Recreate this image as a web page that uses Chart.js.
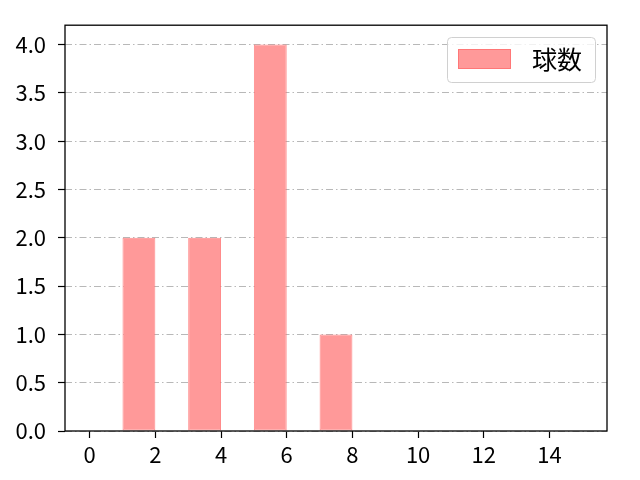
<!DOCTYPE html>
<html>
<head>
<meta charset="utf-8">
<script src="https://cdn.jsdelivr.net/npm/chart.js@4/dist/chart.umd.min.js"></script>
<style>
html,body{margin:0;padding:0;background:#fff;}
canvas{display:block;}
</style>
</head>
<body>
<canvas id="c" width="640" height="480"></canvas>
<script>
// ---- data ----
const binStarts = [1, 3, 5, 7];
const binEnds = [2, 4, 6, 8];
const counts = [2, 2, 4, 1];
const seriesLabel = '球数';
const xTickValues = [0, 2, 4, 6, 8, 10, 12, 14];
const yTickValues = [0, 0.5, 1.0, 1.5, 2.0, 2.5, 3.0, 3.5, 4.0];

const FONT = '"Noto Sans CJK JP", "DejaVu Sans", sans-serif';

const points = binStarts.map((s, i) => ({ x: (s + binEnds[i]) / 2, y: counts[i] }));

const framePlugin = {
  id: 'frame',
  afterDraw(chart) {
    const { ctx, chartArea: a } = chart;
    ctx.save();
    ctx.strokeStyle = '#000';
    ctx.lineWidth = 1.3;
    ctx.strokeRect(a.left, a.top, a.right - a.left, a.bottom - a.top);
    // legend
    const lx = 447.5, ly = 37.5, lw = 148, lh = 45, r = 4;
    ctx.beginPath();
    ctx.moveTo(lx + r, ly);
    ctx.arcTo(lx + lw, ly, lx + lw, ly + lh, r);
    ctx.arcTo(lx + lw, ly + lh, lx, ly + lh, r);
    ctx.arcTo(lx, ly + lh, lx, ly, r);
    ctx.arcTo(lx, ly, lx + lw, ly, r);
    ctx.closePath();
    ctx.fillStyle = 'rgba(255,255,255,0.8)';
    ctx.fill();
    ctx.strokeStyle = '#d0d0d0';
    ctx.lineWidth = 1;
    ctx.stroke();
    ctx.fillStyle = '#ff9999';
    ctx.fillRect(458, 49, 53, 20);
    ctx.strokeStyle = 'rgba(255,110,110,0.8)';
    ctx.strokeRect(458.5, 49.5, 52, 19);
    ctx.fillStyle = '#000';
    ctx.font = '25px ' + FONT;
    ctx.textBaseline = 'middle';
    ctx.textAlign = 'left';
    ctx.fillText(chart.data.datasets[0].label, 532, 59);
    ctx.restore();
  }
};

new Chart(document.getElementById('c'), {
  type: 'bar',
  data: {
    datasets: [{
      label: seriesLabel,
      data: points,
      backgroundColor: '#ff9999',
      borderColor: 'rgba(255,110,110,0.8)',
      borderWidth: 1,
      borderSkipped: false,
      barPercentage: 1.0,
      categoryPercentage: 0.5
    }]
  },
  options: {
    responsive: false,
    animation: false,
    devicePixelRatio: 1,
    layout: { padding: { left: 0, right: 33, top: 24, bottom: 0 } },
    plugins: { legend: { display: false }, tooltip: { enabled: false } },
    scales: {
      x: {
        type: 'linear',
        offset: false,
        min: -0.75,
        max: 15.75,
        afterBuildTicks(s) { s.ticks = xTickValues.map(v => ({ value: v })); },
        afterFit(s) { s.height = 49; },
        grid: {
          offset: false,
          drawOnChartArea: false,
          drawTicks: true,
          tickLength: 7,
          tickColor: '#000',
          tickWidth: 1.2
        },
        border: { display: false },
        ticks: {
          color: '#000',
          font: { family: FONT, size: 22 },
          padding: 3,
          maxRotation: 0,
          callback: v => String(v)
        }
      },
      y: {
        type: 'linear',
        min: 0,
        max: 4.2,
        afterBuildTicks(s) { s.ticks = yTickValues.map(v => ({ value: v })); },
        afterFit(s) { s.width = 65; },
        grid: {
          drawOnChartArea: true,
          color: '#b0b0b0',
          lineWidth: 0.9,
          drawTicks: true,
          tickLength: 7,
          tickColor: '#000',
          tickWidth: 1.2,
          tickBorderDash: []
        },
        border: { display: false, dash: [7, 3, 1.5, 3] },
        ticks: {
          color: '#000',
          font: { family: FONT, size: 22 },
          padding: 12,
          callback: v => Number(v).toFixed(1)
        }
      }
    }
  },
  plugins: [framePlugin]
});
</script>
</body>
</html>
